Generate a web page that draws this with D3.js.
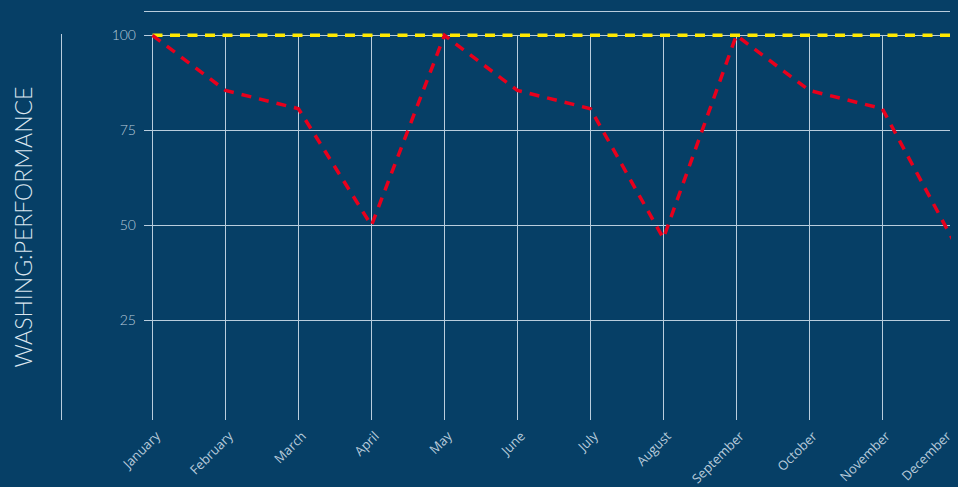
<!DOCTYPE html>
<html>
<head>
<meta charset="utf-8">
<script src="https://cdn.jsdelivr.net/npm/d3@7"></script>
<style>
  html, body { margin: 0; padding: 0; background: #063f66; }
  svg { display: block; }
</style>
</head>
<body>
<svg id="chart" width="958" height="487"></svg>
<script>
// Monthly washing performance against the 100 target
const months = ["January", "February", "March", "April", "May", "June",
                "July", "August", "September", "October", "November", "December"];
const performance = [100, 85.5, 80.7, 50, 100, 85.5, 80.7, 46.6, 100, 85.5, 80.7, 45];
const target = [100, 100, 100, 100, 100, 100, 100, 100, 100, 100, 100, 100];
const yTicks = [25, 50, 75, 100];
const yMax = 106.4;
const yTitle = "WASHING:PERFORMANCE";

const W = 958, H = 487;
const plot = { left: 144, right: 951, top: 11, bottom: 420 };

const svg = d3.select("#chart");
svg.append("rect").attr("width", W).attr("height", H).attr("fill", "#063f66");

const x = d3.scalePoint().domain(months).range([152.5, 955.3]);
const y = d3.scaleLinear().domain([0, yMax]).range([415.5, plot.top]);

const gridColor = "#b9cddd";
const textColor = "#b8cbdb";

svg.append("clipPath").attr("id", "plotclip")
  .append("rect")
  .attr("x", plot.left).attr("y", 0)
  .attr("width", plot.right - plot.left).attr("height", H);

const grid = svg.append("g").attr("clip-path", "url(#plotclip)");

// horizontal grid, including the top border at the domain maximum
grid.selectAll("line.h")
  .data(yTicks.concat([yMax]))
  .join("line")
  .attr("x1", plot.left).attr("x2", 950)
  .attr("y1", d => Math.round(y(d)) + 0.5).attr("y2", d => Math.round(y(d)) + 0.5)
  .attr("stroke", gridColor).attr("stroke-width", 1);

// vertical grid per month
grid.selectAll("line.v")
  .data(months)
  .join("line")
  .attr("x1", d => Math.round(x(d)) + 0.5).attr("x2", d => Math.round(x(d)) + 0.5)
  .attr("y1", y(100)).attr("y2", plot.bottom)
  .attr("stroke", gridColor).attr("stroke-width", 1);

// separate left rule beside the axis title
svg.append("line")
  .attr("x1", 61.5).attr("x2", 61.5)
  .attr("y1", 34).attr("y2", plot.bottom)
  .attr("stroke", gridColor).attr("stroke-width", 1);

// y tick labels
svg.append("g").selectAll("text")
  .data(yTicks)
  .join("text")
  .attr("x", 136).attr("y", d => y(d))
  .attr("dy", "0.35em")
  .attr("text-anchor", "end")
  .attr("fill", textColor)
  .attr("font-family", "Lato, 'Open Sans', sans-serif")
  .attr("font-weight", 300)
  .attr("font-size", 14)
  .text(d => d);

// x tick labels, rotated; the last one is nudged left so it stays inside the frame
const xLabels = svg.append("g").selectAll("text")
  .data(months)
  .join("text")
  .attr("transform", d => `translate(${x(d) + 8.5},${437}) rotate(-45)`)
  .attr("text-anchor", "end")
  .attr("fill", textColor)
  .attr("font-family", "'Open Sans', sans-serif")
  .attr("font-size", 13)
  .text(d => d);

xLabels.each(function (d) {
  const box = this.getBoundingClientRect();
  const over = box.right - (W - 3);
  if (over > 0) {
    d3.select(this).attr("transform", `translate(${x(d) + 8.5 - over},${437}) rotate(-45)`);
  }
});

// axis title
svg.append("text")
  .attr("transform", `translate(32,227) rotate(-90)`)
  .attr("text-anchor", "middle")
  .attr("fill", "#dbe6ef")
  .attr("font-family", "Lato, 'Open Sans', sans-serif")
  .attr("font-weight", 300)
  .attr("font-size", 23)
  .text(yTitle);

const lines = svg.append("g").attr("clip-path", "url(#plotclip)");
const line = d3.line().x((d, i) => x(months[i])).y(d => y(d));

lines.append("path")
  .datum(target)
  .attr("d", line)
  .attr("fill", "none")
  .attr("stroke", "#ffe800")
  .attr("stroke-width", 3.5)
  .attr("stroke-dasharray", "10,7.5");

lines.append("path")
  .datum(performance)
  .attr("d", line)
  .attr("fill", "none")
  .attr("stroke", "#e8001c")
  .attr("stroke-width", 3.5)
  .attr("stroke-dasharray", "10,8");
</script>
</body>
</html>
